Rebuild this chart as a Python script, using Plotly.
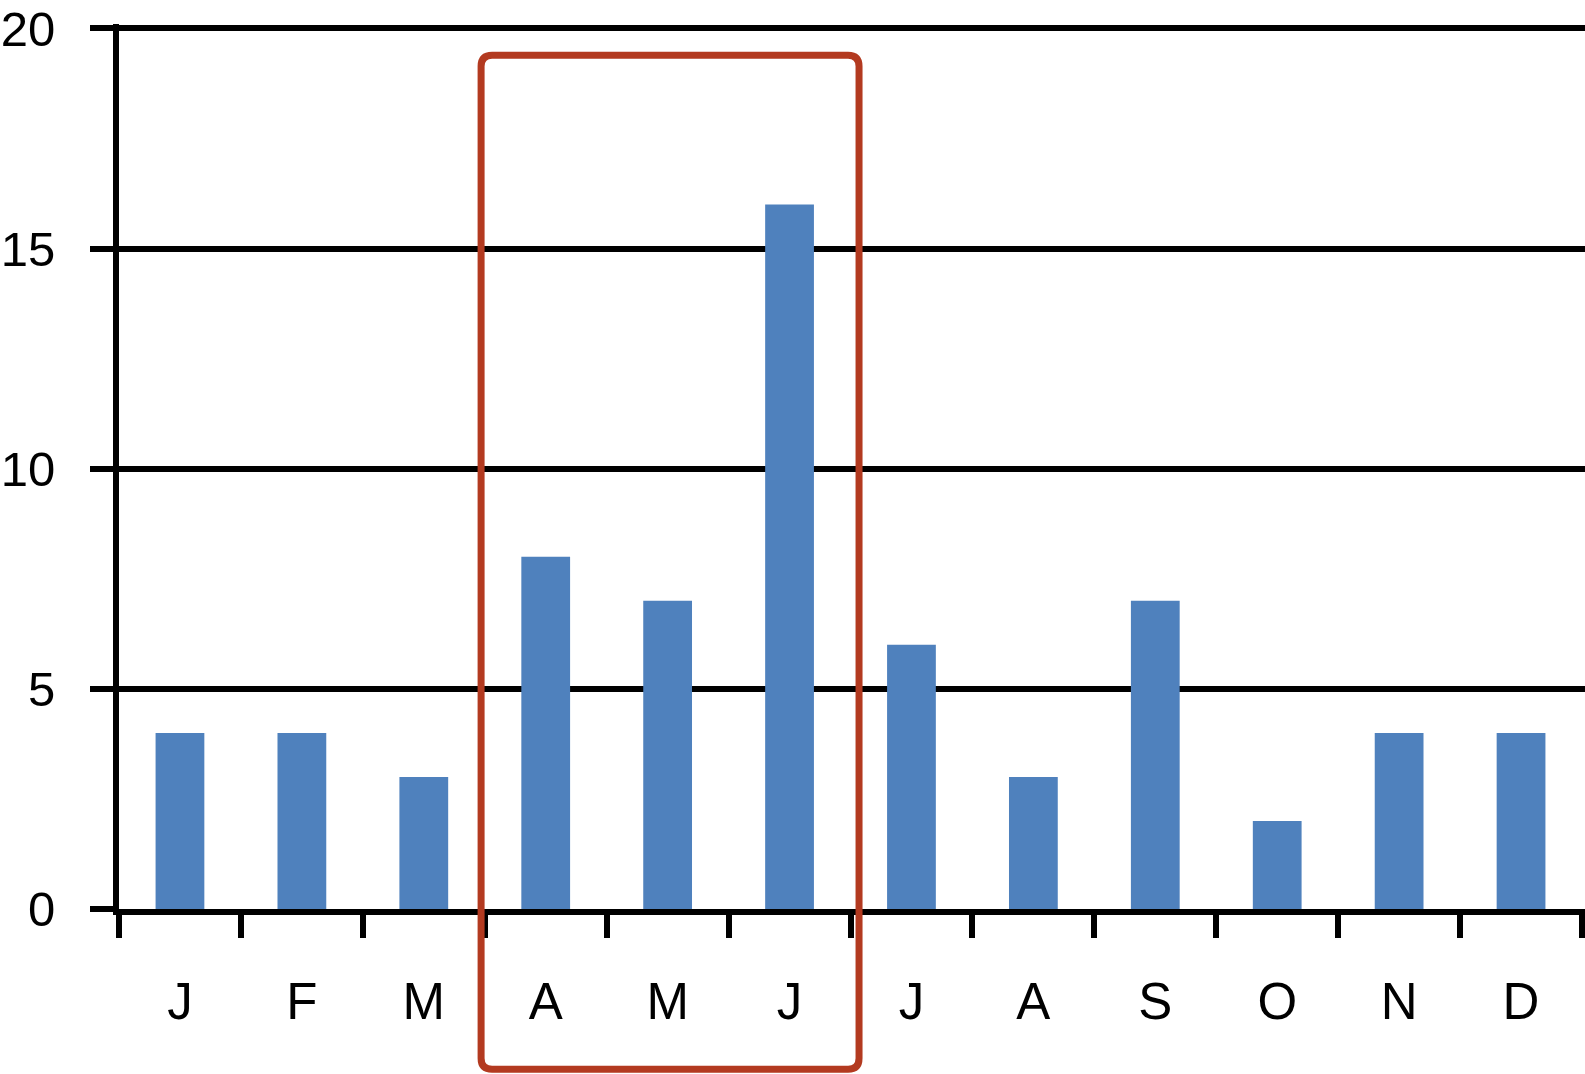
import plotly.graph_objects as go

# ---- data ----
months = ["J", "F", "M", "A", "M", "J", "J", "A", "S", "O", "N", "D"]
counts = [4, 4, 3, 8, 7, 16, 6, 3, 7, 2, 4, 4]
y_ticks = [0, 5, 10, 15, 20]
highlight_months = (3, 5)  # April .. June (indices)

# ---- layout constants ----
W, H = 1585, 1074
ML, MR, MT, MB = 119, 0, 24, 165
PW, PH = W - ML - MR, H - MT - MB
x_idx = list(range(len(months)))
x_range = [-0.5, len(months) - 0.5 + 3 / 122.0]
y_range = [0, 20.1]

FONT = "Liberation Sans, Arial, Helvetica, sans-serif"
FS_X = 51
FS_Y = 49
BLUE = "#4F81BD"
RED = "#B33A20"
LW = 6


def xp(v):
    return (v - x_range[0]) / (x_range[1] - x_range[0])


def yp(v):
    return (v - y_range[0]) / (y_range[1] - y_range[0])


fig = go.Figure(
    go.Bar(
        x=x_idx,
        y=counts,
        width=0.40,
        marker=dict(color=BLUE, line=dict(width=0)),
        hoverinfo="skip",
    )
)

# highlight rectangle (rounded corners), in paper coordinates
x0 = xp(highlight_months[0] - 0.53)
x1 = xp(highlight_months[1] + 0.57)
y1 = yp(19.39)
y0 = yp(-3.64)
rx, ry = 11 / PW, 11 / PH
path = (
    f"M {x0 + rx},{y1} L {x1 - rx},{y1} Q {x1},{y1} {x1},{y1 - ry} "
    f"L {x1},{y0 + ry} Q {x1},{y0} {x1 - rx},{y0} "
    f"L {x0 + rx},{y0} Q {x0},{y0} {x0},{y0 + ry} "
    f"L {x0},{y1 - ry} Q {x0},{y1} {x0 + rx},{y1} Z"
)
fig.add_shape(
    type="path",
    path=path,
    xref="paper",
    yref="paper",
    line=dict(color=RED, width=7),
    fillcolor="rgba(0,0,0,0)",
    layer="above",
)

fig.update_layout(
    width=W,
    height=H,
    margin=dict(l=ML, r=MR, t=MT, b=MB, pad=0, autoexpand=False),
    paper_bgcolor="white",
    plot_bgcolor="white",
    showlegend=False,
    font=dict(family=FONT, size=FS_X, color="black"),
    xaxis=dict(
        range=x_range,
        tickmode="array",
        tickvals=x_idx,
        ticktext=months,
        ticks="",
        showgrid=False,
        zeroline=False,
        showline=True,
        linecolor="black",
        linewidth=LW,
        tickfont=dict(family=FONT, size=FS_X, color="black"),
        ticklabelstandoff=43,
        automargin=False,
        minor=dict(
            tickmode="array",
            tickvals=[i - 0.5 for i in range(len(months) + 1)],
            ticks="outside",
            ticklen=23,
            tickwidth=LW,
            tickcolor="black",
            showgrid=False,
        ),
        fixedrange=True,
    ),
    yaxis=dict(
        range=y_range,
        tickmode="array",
        tickvals=y_ticks,
        ticks="outside",
        ticklen=23,
        tickwidth=LW,
        tickcolor="black",
        showgrid=True,
        gridcolor="black",
        gridwidth=LW,
        zeroline=False,
        showline=True,
        linecolor="black",
        linewidth=LW,
        tickfont=dict(family=FONT, size=FS_Y, color="black"),
        ticklabelstandoff=25,
        automargin=False,
        fixedrange=True,
    ),
    bargap=0.6,
)

fig.write_html(
    "out.html",
    config={"displayModeBar": False},
    post_script="document.body.style.margin='0';document.body.style.overflow='hidden';",
)
